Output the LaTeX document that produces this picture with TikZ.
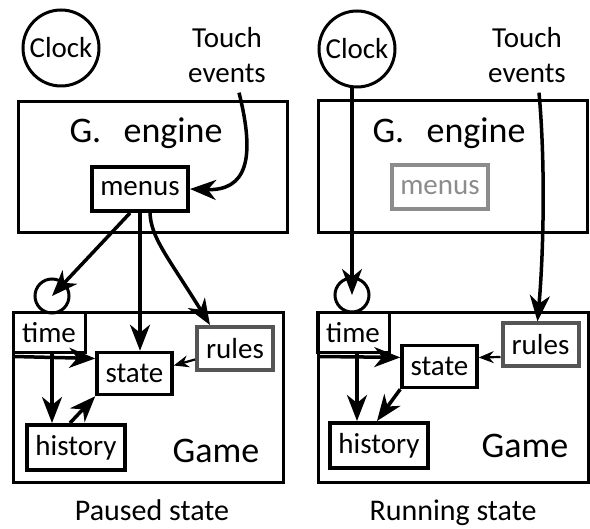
\documentclass[tikz,border=0pt]{standalone}
\usepackage{fontspec}
\setmainfont{Carlito}
\usetikzlibrary{arrows.meta,calc}

\begin{document}
\begin{tikzpicture}[x=1pt,y=-1pt,
  txt/.style={font=\fontsize{29}{35}\selectfont},
  bigtxt/.style={font=\fontsize{36}{42}\selectfont},
  capt/.style={font=\fontsize{30}{36}\selectfont},
  lbl/.style={inner sep=0pt,outer sep=0pt},
  frame/.style={draw, line width=3pt},
  clockc/.style={draw, circle, line width=3pt, minimum size=76pt, inner sep=0pt, txt},
  tick/.style={draw, circle, line width=3pt, minimum size=34pt, inner sep=0pt},
  box/.style={draw, line width=3.5pt, inner sep=0pt, txt},
  timebox/.style={box, line width=3pt, minimum width=72pt, minimum height=40pt},
  statebox/.style={box, minimum width=75pt, minimum height=42pt},
  rulebox/.style={box, draw=rulegray, line width=4pt, minimum width=76pt, minimum height=43pt},
  histbox/.style={box, line width=4pt, minimum width=98pt, minimum height=45pt},
  menubox/.style={box, line width=4pt, minimum width=96pt, minimum height=44pt},
  arr/.style={-{Stealth[length=26pt,width=20pt,inset=8pt]}, line width=3.5pt},
  thinarr/.style={-{Stealth[length=15pt,width=12pt,inset=5pt]}, line width=2.2pt}
]
\definecolor{rulegray}{HTML}{555555}
\definecolor{idlegray}{HTML}{8C8C8C}
\useasboundingbox (0,0) rectangle (590,529);

% ---------- paused state (left) ----------
\node[clockc] (clockL) at (61,48) {Clock};
\node[txt, lbl, align=center] (touchL) at (227,55) {Touch\\events};
\node[frame, minimum width=269pt, minimum height=131pt] (engL) at (152.5,167) {};
\node[bigtxt, lbl, anchor=base] (engLt) at (146,143) {G.\hspace{0.62em}engine};
\node[menubox] (menusL) at (140,189) {menus};
\node[tick] (tickL) at (52,296) {};
\node[frame, minimum width=270pt, minimum height=170pt] (gameL) at (148,398) {};
\node[bigtxt, lbl, anchor=base] (gameLt) at (216,463) {Game};
\node[timebox] (timeL) at (49,333) {time};
\node[statebox] (stateL) at (134.5,373.5) {state};
\node[rulebox] (rulesL) at (235,348.5) {rules};
\node[histbox] (historyL) at (76,447.5) {history};
\node[capt, lbl, anchor=base] (capL) at (152,521) {Paused state};

\draw[arr] ([shift={(12pt,-10pt)}]touchL.south) .. controls (256,160) and (246,191) .. (menusL.east);
\draw[arr] ([xshift=-10pt]menusL.south) -- (tickL.center);
\draw[arr] (menusL.south) -- (menusL.south |- stateL.north);
\draw[arr] ([xshift=10pt]menusL.south) .. controls (151,238) and (168,257) .. ([xshift=-25pt]rulesL.north);
\draw[arr] ([shift={(2pt,-2pt)}]timeL.south west) -- ($(stateL.north west)!0.17!(stateL.south west)$);
\draw[arr] ([xshift=3pt]timeL.south) -- ([xshift=3pt]timeL.south |- historyL.north);
\draw[arr] ([xshift=-6pt]historyL.north) -- (stateL.south west);
\draw[thinarr] ([yshift=-11pt]rulesL.west) -- ([yshift=8pt]stateL.east);

% ---------- running state (right) ----------
\node[clockc] (clockR) at (357,49) {Clock};
\node[txt, lbl, align=center] (touchR) at (527,55) {Touch\\events};
\node[frame, minimum width=269pt, minimum height=132pt] (engR) at (452.5,167) {};
\node[bigtxt, lbl, anchor=base] (engRt) at (449,143) {G.\hspace{0.62em}engine};
\node[menubox, draw=idlegray, text=idlegray] (menusR) at (440,187.5) {menus};
\node[tick] (tickR) at (352,295) {};
\node[frame, minimum width=270pt, minimum height=170pt] (gameR) at (453,397.5) {};
\node[bigtxt, lbl, anchor=base] (gameRt) at (525,458) {Game};
\node[timebox] (timeR) at (353,333) {time};
\node[statebox] (stateR) at (439.5,366.5) {state};
\node[rulebox] (rulesR) at (540.5,345) {rules};
\node[histbox] (historyR) at (379,445.5) {history};
\node[capt, lbl, anchor=base] (capR) at (453,521) {Running state};

\draw[arr] (tickR.center |- clockR.south) -- (tickR.center);
\draw[arr] ([shift={(12pt,-10pt)}]touchR.south) .. controls (546,170) and (543,260) .. ([xshift=-3pt]rulesR.north);
\draw[arr] ([shift={(2pt,-2pt)}]timeR.south west) -- ($(stateR.north west)!0.3!(stateR.south west)$);
\draw[arr] ([xshift=4pt]timeR.south) -- ([xshift=4pt]timeR.south |- historyR.north);
\draw[arr] (stateR.south west) -- ([xshift=-2pt]historyR.north);
\draw[thinarr] ([yshift=-12pt]rulesR.west) -- ([yshift=9pt]stateR.east);
\end{tikzpicture}
\end{document}
